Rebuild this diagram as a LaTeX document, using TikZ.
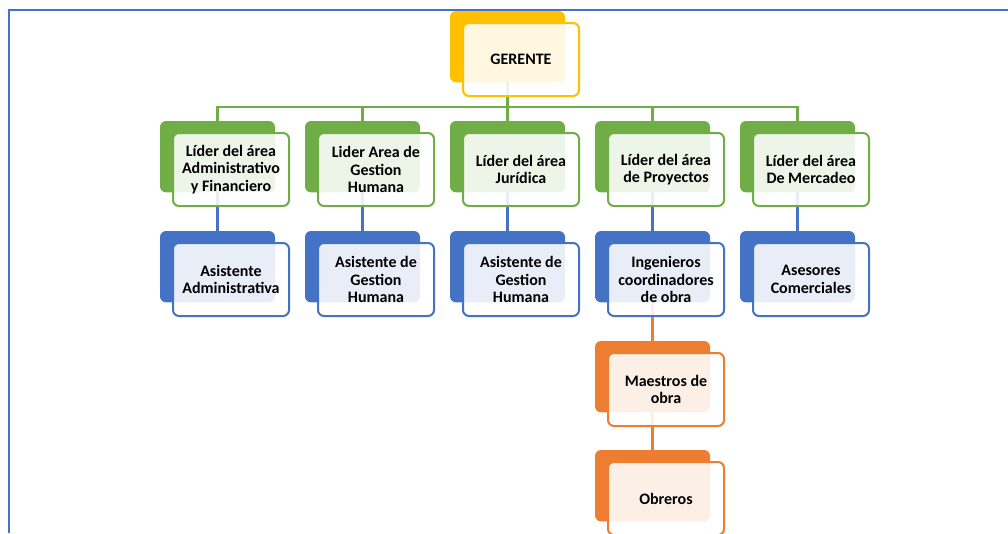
\documentclass[tikz,border=0pt]{standalone}
\usepackage{fontspec}
\setmainfont{Carlito}
\definecolor{cGreen}{HTML}{70AD47}
\definecolor{cBlue}{HTML}{4472C4}
\definecolor{cOrange}{HTML}{ED7D31}
\definecolor{cGold}{HTML}{FFC000}
\pgfdeclarelayer{bg}
\pgfsetlayers{bg,main}
\tikzset{
  backbox/.style={fill=#1, rounded corners=4.5pt, minimum width=86.25pt,
    minimum height=53.5pt, anchor=north west, inner sep=0pt, outer sep=0pt},
  frontbox/.style={draw=#1, line width=1.5pt, fill=white, fill opacity=0.88,
    text opacity=1, rounded corners=4.5pt, minimum width=87pt,
    minimum height=54.75pt, align=center, inner sep=0pt, outer sep=0pt,
    font=\bfseries\fontsize{12}{13}\selectfont},
  conn/.style={draw=#1, line width=2pt},
  frame/.style={draw=cBlue, line width=1.5pt},
}
% one chart entry: solid back tile plus translucent framed label box
\newcommand{\orgunit}[5]{%
  \node[backbox=#4] (#1-bk) at (#2,#3) {};
  \node[frontbox=#4] (#1) at ({#2+71},{#3+48.5}) {#5};
}
\begin{document}
\begin{tikzpicture}[x=0.75pt, y=-0.75pt]
\useasboundingbox (0,0) rectangle (1008,533);
% page frame
\draw[frame] (9,533) -- (9,10) -- (1008,10);

\orgunit{ger}{450}{11}{cGold}{GERENTE}

\orgunit{l1}{160}{121}{cGreen}{Líder del área\\Administrativo\\y Financiero}
\orgunit{l2}{305}{121}{cGreen}{Lider Area de\\Gestion\\Humana}
\orgunit{l3}{450}{121}{cGreen}{Líder del área\\Jurídica}
\orgunit{l4}{595}{121}{cGreen}{Líder del área\\de Proyectos}
\orgunit{l5}{740}{121}{cGreen}{Líder del área\\De Mercadeo}

\orgunit{a1}{160}{231}{cBlue}{Asistente\\Administrativa}
\orgunit{a2}{305}{231}{cBlue}{Asistente de\\Gestion\\Humana}
\orgunit{a3}{450}{231}{cBlue}{Asistente de\\Gestion\\Humana}
\orgunit{a4}{595}{231}{cBlue}{Ingenieros\\coordinadores\\de obra}
\orgunit{a5}{740}{231}{cBlue}{Asesores\\Comerciales}

\orgunit{mae}{595}{341}{cOrange}{Maestros de\\obra}
\orgunit{obr}{595}{450}{cOrange}{Obreros}

\begin{pgfonlayer}{bg}
  \coordinate (bus) at (507.5,107);
  \foreach \l in {l1,l2,l3,l4,l5}
    \draw[conn=cGreen] (ger-bk.south) -- (ger-bk.south |- bus) -| (\l-bk.north);
  \foreach \i in {1,...,5}
    \draw[conn=cBlue] (l\i-bk.south) -- (a\i-bk.north);
  \draw[conn=cOrange] (a4-bk.south) -- (mae-bk.north);
  \draw[conn=cOrange] (mae-bk.south) -- (obr-bk.north);
\end{pgfonlayer}
\end{tikzpicture}
\end{document}
